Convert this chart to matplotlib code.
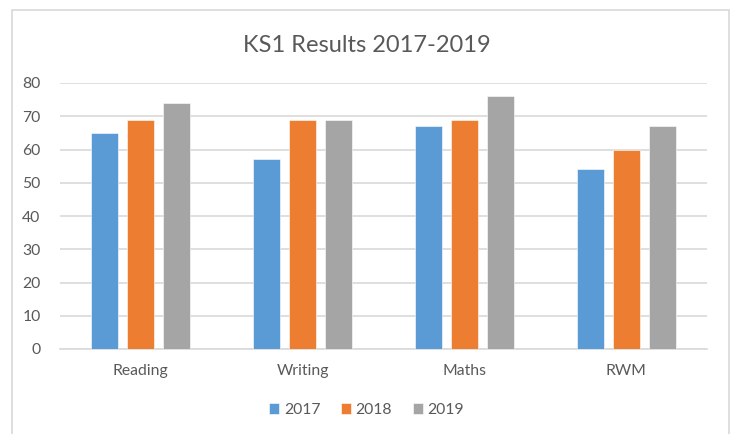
import matplotlib.pyplot as plt
import numpy as np
from matplotlib.patches import Rectangle

# datos del grafico
categorias = ['Reading', 'Writing', 'Maths', 'RWM']
anios = ['2017', '2018', '2019']
valores_2017 = [65, 57, 67, 54]
valores_2018 = [69, 69, 69, 60]
valores_2019 = [74, 69, 76, 67]

colores = ['#5B9BD5', '#ED7D31', '#A5A5A5']
texto = '#595959'
rejilla = '#D9D9D9'

plt.rcParams['font.family'] = ['Lato', 'DejaVu Sans']

W, H = 733, 434
fig = plt.figure(figsize=(W / 100, H / 100), dpi=100)
ax = fig.add_axes([60 / W, 1 - 349 / H, (707 - 60) / W, (349 - 83) / H])

x = np.arange(len(categorias))
ancho = 27 / 161.75
paso = 36 / 161.75
series = [valores_2017, valores_2018, valores_2019]
for i, (serie, color, anio) in enumerate(zip(series, colores, anios)):
    ax.bar(x + (i - 1) * paso, serie, width=ancho, color=color, label=anio,
           zorder=3, edgecolor='white', linewidth=0.4)

ax.set_xlim(-0.5, len(categorias) - 0.5)
ax.set_ylim(0, 80)
ax.set_yticks(range(0, 81, 10))
ax.set_xticks(x)
ax.set_xticklabels(categorias)
ax.tick_params(axis='both', length=0, labelsize=11.3, colors=texto)
ax.tick_params(axis='y', pad=14)
ax.tick_params(axis='x', pad=11)
ax.grid(axis='y', color=rejilla, linewidth=1.2, zorder=0)
for lado in ['top', 'right', 'left']:
    ax.spines[lado].set_visible(False)
ax.spines['bottom'].set_color(rejilla)
ax.spines['bottom'].set_linewidth(1.2)

fig.text(0.5, 1 - 45 / H, 'KS1 Results 2017-2019', ha='center', va='center',
         fontsize=17, color=texto)

fig.legend(loc='center', bbox_to_anchor=(0.5, 1 - 410 / H), ncol=3,
           frameon=False, fontsize=11.3, handlelength=0.65, handleheight=0.65,
           handletextpad=0.3, columnspacing=1.3, labelcolor=texto)

# borde exterior del grafico
fig.patches.append(Rectangle((12 / W, -0.05), (729 - 12) / W, 1 - 10 / H + 0.05,
                             transform=fig.transFigure, fill=False,
                             edgecolor=rejilla, linewidth=1.2))

fig.savefig('out.png', dpi=100)
